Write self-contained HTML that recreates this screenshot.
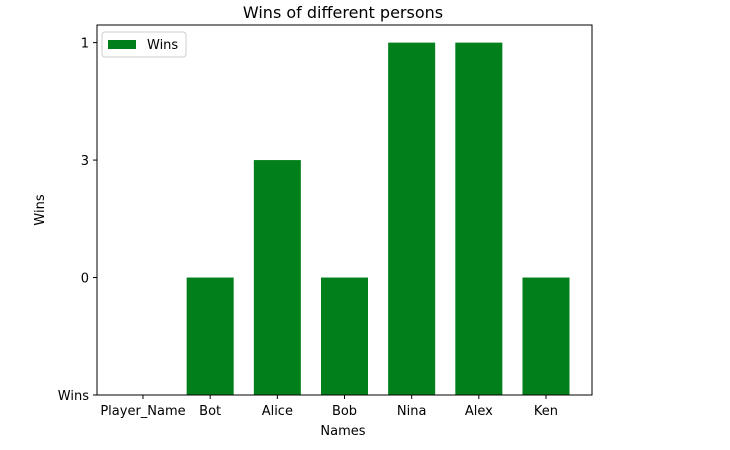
<!DOCTYPE html>
<html><head><meta charset="utf-8"><style>
body{margin:0;background:#fff;}
svg text{font-family:"DejaVu Sans","Liberation Sans",sans-serif;}
</style></head><body>
<svg id="chart" width="730" height="445" viewBox="0 0 730 445" xmlns="http://www.w3.org/2000/svg">
<rect width="730" height="445" fill="#fff"/>
<text x="343" y="18" text-anchor="middle" font-size="16">Wins of different persons</text>
<g id="bars"></g>
<rect x="97" y="25" width="495" height="370" fill="none" stroke="#000" stroke-width="1"/>
<g id="xticks"></g>
<g id="yticks"></g>
<text x="343" y="435" text-anchor="middle" font-size="13">Names</text>
<text transform="translate(44,210) rotate(-90)" text-anchor="middle" font-size="13">Wins</text>
<g>
<rect x="102" y="32" width="84" height="25" rx="3" fill="#fff" stroke="#ccc"/>
<rect x="108" y="40" width="28" height="9" fill="#007f1a"/>
<text x="147" y="49" font-size="13">Wins</text>
</g>
</svg>
<script>
const categories = ["Player_Name","Bot","Alice","Bob","Nina","Alex","Ken"];
const yCategories = ["Wins","0","3","1"];
const values = ["Wins","0","3","0","1","1","0"];
const ns="http://www.w3.org/2000/svg";
const L=97,R=592,T=25,B=395;
const xmin=-0.685,xmax=categories.length-1+0.685;
const ymin=0,ymax=(yCategories.length-1)*1.05;
function xs(v){return L+(v-xmin)/(xmax-xmin)*(R-L);}
function ys(v){return B-(v-ymin)/(ymax-ymin)*(B-T);}
const bars=document.getElementById('bars');
const xt=document.getElementById('xticks');
const yt=document.getElementById('yticks');
categories.forEach((c,i)=>{
  const idx=yCategories.indexOf(values[i]);
  const r=document.createElementNS(ns,'rect');
  
  
  const x0=xs(i-0.35),x1=xs(i+0.35);
  r.setAttribute('x',x0);r.setAttribute('width',x1-x0);
  r.setAttribute('y',ys(idx));r.setAttribute('height',ys(0)-ys(idx));
  r.setAttribute('fill','#007f1a');
  bars.appendChild(r);
  const tk=document.createElementNS(ns,'line');
  
  
  tk.setAttribute('x1',xs(i));tk.setAttribute('x2',xs(i));tk.setAttribute('y1',B);tk.setAttribute('y2',B+4);tk.setAttribute('stroke','#000');
  xt.appendChild(tk);
  const t=document.createElementNS(ns,'text');
  
  
  t.setAttribute('x',xs(i));t.setAttribute('y',B+20);t.setAttribute('text-anchor','middle');t.setAttribute('font-size','13');
  t.textContent=c;xt.appendChild(t);
});
yCategories.forEach((c,i)=>{
  const tk=document.createElementNS(ns,'line');
  
  
  tk.setAttribute('x1',L-4);tk.setAttribute('x2',L);tk.setAttribute('y1',ys(i));tk.setAttribute('y2',ys(i));tk.setAttribute('stroke','#000');
  yt.appendChild(tk);
  const t=document.createElementNS(ns,'text');
  
  
  t.setAttribute('x',L-8);t.setAttribute('y',ys(i)+5);t.setAttribute('text-anchor','end');t.setAttribute('font-size','13');
  t.textContent=c;yt.appendChild(t);
});
</script>
</body></html>
